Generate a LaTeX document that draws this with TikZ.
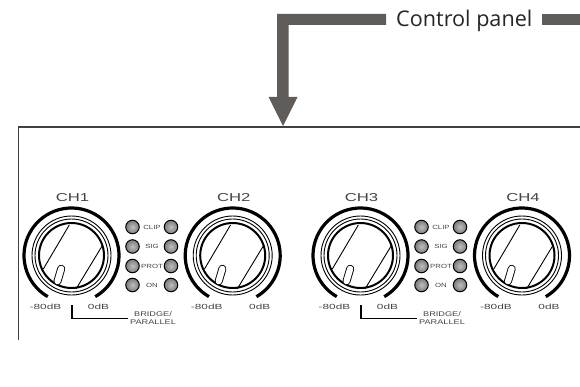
\documentclass[tikz,border=0pt]{standalone}
\usepackage{fontspec}
\setmainfont{Open Sans}
\newfontfamily\panelfont{Liberation Sans}
\definecolor{arrowgrey}{HTML}{5F5C5A}
\definecolor{labelgrey}{HTML}{444444}
\tikzset{
  x=1pt,y=1pt,
  panellabel/.style={inner sep=0pt,text=labelgrey,font=\panelfont\fontsize{6.8}{7}\selectfont,xscale=1.35},
  dblabel/.style={inner sep=0pt,text=labelgrey,font=\panelfont\fontsize{7.4}{8}\selectfont,xscale=1.6},
  chlabel/.style={inner sep=0pt,text=labelgrey,font=\panelfont\fontsize{11.5}{12}\selectfont,xscale=1.45},
  ledlabel/.style={inner sep=0pt,text=labelgrey,font=\panelfont\fontsize{6}{6}\selectfont,xscale=1.3},
  led/.style={circle,draw=black,line width=1pt,minimum size=13.5pt,inner sep=0pt,inner color=black!25,outer color=black!52},
  ring/.style={draw=black,line width=.9pt},
  bridgeline/.style={draw=black,line width=1.6pt},
}
\newcommand{\knob}[2]{%
  \begin{scope}[shift={(#1,130.5)}]
    \draw[black,line width=3.2pt] (240:47.5) arc[start angle=240,end angle=-60,radius=47.5];
    \draw[ring] (0,0) circle[radius=39.5];
    \draw[ring] (0,0) circle[radius=36.5];
    \draw[ring,line width=2pt] (0,0) circle[radius=32.5];
    \draw[ring] (-2.2,30.5) -- (-28.2,-13.5);
    \draw[ring] (31.2,10.5) -- (4.5,-33.5);
    \draw[black,line width=8pt,line cap=round] (-10.3,-13.3) -- (-14,-25.7);
    \draw[white,line width=6.2pt,line cap=round] (-10.3,-13.3) -- (-14,-25.7);
    \node[chlabel] (ch#2) at (1,58) {CH#2};
    \node[dblabel] (low#2) at (-26,-51) {-80dB};
    \node[dblabel] (high#2) at (27,-51) {0dB};
  \end{scope}}
\newcommand{\ledgroup}[2]{%
  \begin{scope}[shift={(#1,0)}]
    \foreach \yy/\txt/\k in {159/CLIP/a,139.5/SIG/b,120/PROT/c,101/ON/d}{
      \node[led] (ledL#2\k) at (132.5,\yy) {};
      \node[led] (ledR#2\k) at (171,\yy) {};
      \node[ledlabel] (ledT#2\k) at (152,\yy) {\txt};
    }
    \coordinate (bridgeS#2) at (71.7,81);
    \coordinate (bridgeC#2) at (71.7,67.7);
    \node[panellabel] (bridgeA#2) at (153,72) {BRIDGE/};
    \node[panellabel] (bridgeB#2) at (153,64.3) {PARALLEL};
    \coordinate (bridgeE#2) at (128,67.7);
    \draw[bridgeline] (bridgeS#2) -- (bridgeC#2) -- (bridgeE#2);
  \end{scope}}
\begin{document}
\begin{tikzpicture}
  \useasboundingbox (0,0) rectangle (580,386);
  \clip (0,0) rectangle (580,386);
  \fill[white] (0,0) rectangle (580,386);
  \coordinate (frameB) at (18.3,46);
  \coordinate (frameC) at (18.3,259);
  \coordinate (frameE) at (580,259);
  \draw[black!75,line width=1.2pt] (frameB) -- (frameC) -- (frameE);
  \fill[arrowgrey] (386,372) -- (277,372) -- (277,289) -- (268.5,289) -- (283,260) -- (297.5,289) -- (288.5,289) -- (288.5,361) -- (386,361) -- cycle;
  \fill[arrowgrey] (542,361) rectangle (580,372);
  \node[inner sep=0pt,anchor=base west,text=black!85,font=\fontsize{21.6}{23}\selectfont] (title) at (396,359.3) {Control panel};
  \knob{71.5}{1}
  \knob{232.7}{2}
  \knob{360.5}{3}
  \knob{522}{4}
  \ledgroup{0}{A}
  \ledgroup{289}{B}
\end{tikzpicture}
\end{document}
